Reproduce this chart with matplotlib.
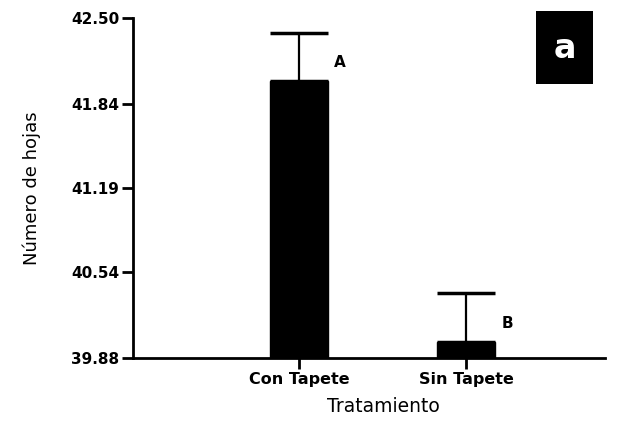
import matplotlib.pyplot as plt
from matplotlib.patches import Rectangle

# data
treatments = ["Con Tapete", "Sin Tapete"]
means = [42.015, 40.003]
sem = [0.37, 0.378]
letters = ["A", "B"]
yticks = [39.88, 40.54, 41.19, 41.84, 42.50]

fig = plt.figure(figsize=(6.19, 4.22), dpi=100, facecolor="white")
ax = fig.add_axes([0.215, 0.152, 0.762, 0.805])

x = list(range(len(treatments)))
ax.bar(x, means, width=0.35, color="black", edgecolor="black", zorder=2)
ax.errorbar(x, means, yerr=[[0] * len(sem), sem], fmt="none", ecolor="black",
            elinewidth=1.6, capsize=21, capthick=2.5, zorder=1)

for xi, m, s, lab in zip(x, means, sem, letters):
    ax.text(xi + 0.21, m + s * 0.22, lab, fontsize=11, fontweight="bold",
            family="DejaVu Sans", ha="left", va="bottom")

ax.set_ylim(yticks[0], yticks[-1])
ax.set_xlim(-0.994, 1.83)
ax.set_yticks(yticks)
ax.set_yticklabels([f"{v:.2f}" for v in yticks])
ax.set_xticks(x)
ax.set_xticklabels(treatments)

for lbl in ax.get_yticklabels() + ax.get_xticklabels():
    lbl.set_family("DejaVu Sans")
    lbl.set_fontweight("bold")
for lbl in ax.get_yticklabels():
    lbl.set_fontsize(11)
for lbl in ax.get_xticklabels():
    lbl.set_fontsize(11.5)

ax.set_ylabel("Número de hojas", fontsize=13, family="DejaVu Sans")
ax.yaxis.set_label_coords(-0.195, 0.5)
ax.set_xlabel("Tratamiento", fontsize=13.5, family="DejaVu Sans")
ax.xaxis.set_label_coords(0.53, -0.115)

ax.spines["top"].set_visible(False)
ax.spines["right"].set_visible(False)
for sp in ("left", "bottom"):
    ax.spines[sp].set_linewidth(2)
ax.tick_params(axis="both", direction="out", length=8, width=2, pad=2)

# panel tag
fig.patches.append(Rectangle((536 / 619, 1 - 84 / 422), 57 / 619, 73 / 422,
                             transform=fig.transFigure, facecolor="black",
                             edgecolor="none"))
fig.text(564.5 / 619, 1 - 49 / 422, "a", color="white", fontsize=24,
         fontweight="bold", family="DejaVu Sans", ha="center", va="center")

fig.savefig("out.png", dpi=100, facecolor="white")
